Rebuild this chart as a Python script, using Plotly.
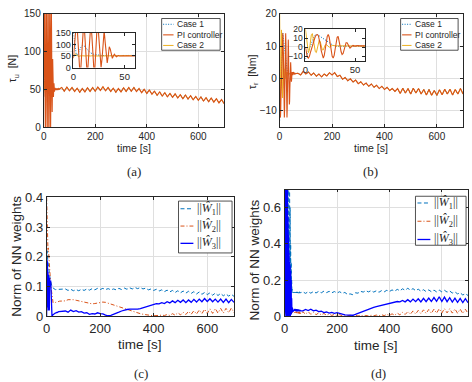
import plotly.graph_objects as go

# ---------------- time bases ----------------
t_fast = list(range(0, 61))          # 0..60 s, 1 s step
t_slow = list(range(70, 701, 10))    # 70..700 s, 10 s step

# ---------------- (a) tau_u [N] ----------------
pi_a_fast = [40, 90, 150, 200, 150, 60, 0, -20, 40, 130,
             190, 150, 60, 0, -10, 60, 150, 190, 140, 50,
             -10, 0, 80, 170, 180, 110, 30, 0, 40, 130,
             160, 110, 50, 20, 50, 90, 80, 50, 40, 50,
             58, 52, 47, 50, 52, 50, 49, 50, 51, 50,
             49, 50, 51, 50, 50, 49, 50, 51, 50, 50, 50]
case1_a_fast = [150, 110, 70, 50, 55, 65, 78, 88, 94, 97,
                96, 92, 86, 80, 75, 70, 66, 63, 60, 58,
                57, 56, 55, 54, 54, 53, 53, 52, 52, 52,
                52, 51, 51, 51, 51, 51, 50, 50, 50, 50,
                50, 50, 50, 50, 50, 50, 50, 50, 50, 50,
                50, 50, 50, 50, 50, 50, 50, 50, 50, 50, 50]
case2_a_fast = [45, 55, 60, 55, 50, 48, 49, 51, 52, 51,
                50, 49, 50, 51, 50, 50, 49, 50, 51, 50,
                50, 50, 50, 50, 50, 50, 50, 50, 50, 50,
                50, 50, 50, 50, 50, 50, 50, 50, 50, 50,
                50, 50, 50, 50, 50, 50, 50, 50, 50, 50,
                50, 50, 50, 50, 50, 50, 50, 50, 50, 50, 50]
tau_a_slow = [52.5, 47.5, 53, 48, 52.5, 47, 51.5, 46, 51, 46.5,
              52, 47, 52.5, 47.5, 53, 48.5, 53.5, 48, 52.5, 47,
              51.5, 46, 51, 46.5, 52, 47, 52.5, 47.5, 52.5, 47,
              51, 45.5, 50, 44.5, 49, 43.5, 47.5, 42, 46.5, 41,
              45.5, 40, 44.5, 39.5, 44, 38.5, 43, 37.5, 42.5, 37,
              41.5, 36, 40.5, 35.5, 40, 34.5, 39, 33.5, 38.5, 33,
              37.5, 32, 36.5, 31]

# ---------------- (b) tau_r [Nm] ----------------
pi_b_fast = [0, -6, -11, -12, -10, -6, -2, 2, 6, 9,
             12, 13.5, 14, 13, 9, 3, -4, -10, -12, -9,
             -2, 6, 12, 14, 11, 4, -4, -10, -12, -9,
             -2, 6, 11, 12, 8, 1, -5, -8, -7, -3,
             2, 5, 5, 3, 0, -1, 0, 1.5, 2, 1.5,
             1, 1.5, 2, 1.8, 1.5, 1.4, 1.6, 1.8, 1.6, 1.4, 1.5]
case1_b_fast = [-13, -10, -7, -4, -1, 2, 5, 8, 10.5, 12.5,
                13.5, 14, 14, 13.3, 12.5, 11.7, 11, 10.2, 9.4, 8.6,
                7.8, 7, 6.2, 5.4, 4.6, 3.8, 3, 2.4, 1.8, 1.3,
                1, 1, 1.2, 1.4, 1.5, 1.5, 1.5, 1.5, 1.5, 1.5,
                1.5, 1.5, 1.5, 1.5, 1.5, 1.5, 1.5, 1.5, 1.5, 1.5,
                1.5, 1.5, 1.5, 1.5, 1.5, 1.5, 1.5, 1.5, 1.5, 1.5, 1.5]
case2_b_fast = [20, 12, 3, -6, -3, 6, 14, 15, 9, 1,
                -5, -6, -1, 5, 8, 6, 1, -3, -3, 0,
                2.5, 3, 2, 0.5, 0, 0.5, 1.5, 2, 2, 1.6,
                1.4, 1.4, 1.5, 1.5, 1.5, 1.5, 1.5, 1.5, 1.5, 1.5,
                1.5, 1.5, 1.5, 1.5, 1.5, 1.5, 1.5, 1.5, 1.5, 1.5,
                1.5, 1.5, 1.5, 1.5, 1.5, 1.5, 1.5, 1.5, 1.5, 1.5, 1.5]
tau_b_slow = [1.6, 1.1, 2.2, 1.4, 2.0, 1.0, 1.7, 0.7, 1.4, 0.5,
              1.4, 0.8, 1.8, 1.1, 1.8, 0.6, 1.0, -0.2, 0.3, -0.7,
              -0.1, -1.1, -0.5, -1.6, -1.0, -2.0, -1.4, -2.4, -1.7, -2.7,
              -2.1, -3.1, -2.4, -3.4, -2.7, -3.7, -3.1, -4.0, -3.1, -4.6,
              -3.0, -4.5, -3.1, -4.8, -3.0, -4.5, -3.1, -4.8, -3.4, -5.1,
              -3.4, -5.2, -3.7, -5.2, -3.5, -5.0, -3.3, -4.8, -3.3, -5.1,
              -3.4, -4.8, -3.1, -4.8]

# ---------------- (c) NN weight norms ----------------
w1_c_fast = [0.15, 0.2, 0.22, 0.2, 0.19, 0.18, 0.17, 0.16, 0.155, 0.15,
             0.14, 0.135, 0.13, 0.125, 0.12, 0.115, 0.11, 0.108, 0.105, 0.103,
             0.1, 0.098, 0.097, 0.096, 0.095, 0.094, 0.093, 0.092, 0.092, 0.091,
             0.091, 0.09, 0.09, 0.09, 0.09, 0.09, 0.09, 0.09, 0.09, 0.09,
             0.09, 0.09, 0.09, 0.09, 0.09, 0.09, 0.09, 0.09, 0.09, 0.09,
             0.091, 0.091, 0.091, 0.091, 0.091, 0.091, 0.091, 0.091, 0.091, 0.091, 0.091]
w2_c_fast = [0.4, 0.36, 0.3, 0.26, 0.23, 0.22, 0.23, 0.22, 0.2, 0.19,
             0.18, 0.16, 0.15, 0.14, 0.12, 0.11, 0.1, 0.09, 0.08, 0.07,
             0.06, 0.055, 0.05, 0.048, 0.046, 0.045, 0.045, 0.045, 0.045, 0.046,
             0.046, 0.046, 0.047, 0.047, 0.047, 0.048, 0.048, 0.048, 0.049, 0.049,
             0.049, 0.05, 0.05, 0.05, 0.05, 0.05, 0.05, 0.051, 0.051, 0.051,
             0.051, 0.051, 0.051, 0.051, 0.051, 0.052, 0.052, 0.052, 0.052, 0.052, 0.052]
w3_c_fast = [0.0, 0.19, 0.05, 0.18, 0.03, 0.15, 0.02, 0.14, 0.03, 0.13,
             0.02, 0.13, 0.1, 0.12, 0.11, 0.12, 0.1, 0.08, 0.06, 0.03,
             0.0, 0.002, 0.004, 0.005, 0.006, 0.007, 0.008, 0.008, 0.009, 0.009,
             0.01, 0.01, 0.011, 0.011, 0.012, 0.012, 0.012, 0.013, 0.013, 0.013,
             0.014, 0.014, 0.015, 0.015, 0.015, 0.016, 0.016, 0.016, 0.017, 0.017,
             0.017, 0.017, 0.018, 0.018, 0.018, 0.018, 0.018, 0.018, 0.018, 0.018, 0.018]
w1_c_slow = [0.092, 0.087, 0.091, 0.086, 0.090, 0.086, 0.091, 0.087, 0.092, 0.088,
             0.093, 0.089, 0.094, 0.090, 0.094, 0.090, 0.093, 0.089, 0.092, 0.089,
             0.094, 0.090, 0.095, 0.091, 0.096, 0.092, 0.097, 0.093, 0.097, 0.092,
             0.095, 0.089, 0.092, 0.087, 0.091, 0.085, 0.089, 0.083, 0.088, 0.082,
             0.087, 0.080, 0.086, 0.079, 0.085, 0.078, 0.084, 0.077, 0.083, 0.075,
             0.082, 0.074, 0.080, 0.073, 0.079, 0.071, 0.078, 0.070, 0.077, 0.069,
             0.075, 0.068, 0.074, 0.067]
w2_c_slow = [0.052, 0.056, 0.057, 0.056, 0.054, 0.052, 0.049, 0.047, 0.045, 0.043,
             0.042, 0.043, 0.045, 0.047, 0.048, 0.047, 0.044, 0.041, 0.038, 0.035,
             0.032, 0.029, 0.026, 0.022, 0.019, 0.016, 0.013, 0.011, 0.009, 0.007,
             0.005, 0.004, 0.003, 0.002, 0.003, 0.002, 0.004, 0.003, 0.006, 0.003,
             0.009, 0.004, 0.012, 0.005, 0.014, 0.006, 0.017, 0.007, 0.019, 0.008,
             0.021, 0.009, 0.024, 0.010, 0.025, 0.010, 0.026, 0.011, 0.027, 0.011,
             0.027, 0.012, 0.028, 0.012]
w3_c_slow = [0.018, 0.014, 0.021, 0.016, 0.019, 0.014, 0.016, 0.011, 0.012, 0.007,
             0.009, 0.008, 0.012, 0.009, 0.008, 0.004, 0.002, 0.003, 0.006, 0.010,
             0.014, 0.018, 0.021, 0.023, 0.024, 0.024, 0.023, 0.024, 0.026, 0.029,
             0.032, 0.035, 0.038, 0.040, 0.043, 0.042, 0.046, 0.043, 0.049, 0.045,
             0.052, 0.046, 0.054, 0.047, 0.055, 0.046, 0.055, 0.047, 0.057, 0.048,
             0.058, 0.049, 0.060, 0.050, 0.059, 0.049, 0.058, 0.048, 0.058, 0.047,
             0.058, 0.046, 0.057, 0.047]

# ---------------- (d) NN weight norms ----------------
w1_d_fast = [0.3, 0.75, 0.1, 0.72, 0.2, 0.8, 0.15, 0.65, 0.3, 0.75,
             0.2, 0.6, 0.35, 0.7, 0.25, 0.5, 0.3, 0.8, 0.4, 0.75,
             0.3, 0.6, 0.2, 0.4, 0.15, 0.3, 0.14, 0.2, 0.13, 0.15,
             0.13, 0.135, 0.13, 0.132, 0.13, 0.133, 0.13, 0.132, 0.131, 0.133,
             0.13, 0.135, 0.128, 0.134, 0.129, 0.135, 0.128, 0.134, 0.13, 0.135,
             0.129, 0.134, 0.128, 0.135, 0.13, 0.134, 0.128, 0.135, 0.129, 0.134, 0.13]
w2_d_fast = [0.05, 0.15, 0.25, 0.12, 0.22, 0.1, 0.2, 0.13, 0.18, 0.08,
             0.15, 0.05, 0.12, 0.03, 0.1, 0.02, 0.08, 0.02, 0.06, 0.01,
             0.04, 0.02, 0.03, 0.015, 0.025, 0.02, 0.022, 0.018, 0.02, 0.022,
             0.02, 0.024, 0.021, 0.025, 0.022, 0.026, 0.021, 0.025, 0.02, 0.024,
             0.02, 0.025, 0.019, 0.026, 0.02, 0.025, 0.018, 0.026, 0.019, 0.025,
             0.018, 0.026, 0.017, 0.025, 0.016, 0.026, 0.015, 0.025, 0.014, 0.026, 0.014]
w3_d_fast = [0.0, 0.5, 0.0, 0.72, 0.05, 0.68, 0.0, 0.75, 0.02, 0.6,
             0.0, 0.72, 0.05, 0.55, 0.0, 0.45, 0.02, 0.35, 0.0, 0.3,
             0.05, 0.28, 0.0, 0.25, 0.02, 0.2, 0.01, 0.1, 0.02, 0.05,
             0.02, 0.03, 0.025, 0.035, 0.03, 0.036, 0.03, 0.038, 0.031, 0.037,
             0.03, 0.038, 0.03, 0.04, 0.031, 0.039, 0.03, 0.04, 0.031, 0.038,
             0.03, 0.039, 0.031, 0.038, 0.03, 0.037, 0.029, 0.036, 0.03, 0.036, 0.03]
w1_d_slow = [0.135, 0.127, 0.136, 0.128, 0.137, 0.129, 0.138, 0.130, 0.139, 0.131,
             0.138, 0.130, 0.137, 0.129, 0.136, 0.127, 0.132, 0.121, 0.124, 0.120,
             0.130, 0.128, 0.138, 0.134, 0.142, 0.135, 0.142, 0.134, 0.141, 0.133,
             0.142, 0.135, 0.144, 0.137, 0.146, 0.139, 0.149, 0.141, 0.152, 0.144,
             0.155, 0.145, 0.153, 0.142, 0.150, 0.139, 0.147, 0.137, 0.146, 0.136,
             0.145, 0.135, 0.145, 0.135, 0.144, 0.134, 0.140, 0.129, 0.135, 0.124,
             0.130, 0.118, 0.125, 0.115]
w2_d_slow = [0.025, 0.012, 0.026, 0.011, 0.022, 0.009, 0.019, 0.008, 0.016, 0.006,
             0.013, 0.005, 0.011, 0.004, 0.009, 0.004, 0.008, 0.003, 0.006, 0.003,
             0.006, 0.002, 0.005, 0.002, 0.005, 0.002, 0.006, 0.003, 0.007, 0.003,
             0.009, 0.004, 0.011, 0.005, 0.014, 0.006, 0.018, 0.008, 0.022, 0.010,
             0.026, 0.012, 0.030, 0.013, 0.033, 0.015, 0.036, 0.016, 0.038, 0.017,
             0.040, 0.018, 0.042, 0.018, 0.043, 0.019, 0.042, 0.018, 0.041, 0.017,
             0.040, 0.016, 0.039, 0.016]
w3_d_slow = [0.030, 0.038, 0.032, 0.039, 0.030, 0.034, 0.026, 0.028, 0.021, 0.024,
             0.018, 0.022, 0.017, 0.020, 0.014, 0.012, 0.008, 0.006, 0.004, 0.006,
             0.011, 0.017, 0.024, 0.030, 0.036, 0.041, 0.046, 0.050, 0.054, 0.058,
             0.062, 0.066, 0.070, 0.073, 0.076, 0.078, 0.082, 0.080, 0.088, 0.080,
             0.092, 0.080, 0.095, 0.081, 0.097, 0.080, 0.099, 0.081, 0.101, 0.082,
             0.104, 0.083, 0.108, 0.082, 0.106, 0.081, 0.103, 0.079, 0.100, 0.077,
             0.099, 0.076, 0.098, 0.075]

# tick labels
x_ticks = [0, 200, 400, 600]
ya_ticks = [0, 50, 100, 150]
yb_ticks = [-10, 0, 10, 20]
yc_ticks = [0, 0.1, 0.2, 0.3, 0.4]
yc_text = ["0", "0.1", "0.2", "0.3", "0.4"]
yd_ticks = [0, 0.2, 0.4, 0.6]
yd_text = ["0", "0.2", "0.4", "0.6"]
inset_x_ticks = [0, 50]

legend_ab = ["Case 1", "PI controller", "Case 2"]
legend_cd = ["||<i>Ŵ</i><sub>1</sub>||", "||<i>Ŵ</i><sub>2</sub>||", "||<i>Ŵ</i><sub>3</sub>||"]

# ---------------- styling ----------------
W, H = 472, 382
C_BLUE = "#0072BD"
C_ORANGE = "#D95319"
C_YELLOW = "#EDB120"
C_W3 = "#0000FF"
AX = "#262626"
GRID = "#DFDFDF"
SANS = "Liberation Sans, Arial, sans-serif"
SERIF = "Liberation Serif, Times New Roman, serif"


def fx(p):
    return p / W


def fy(p):
    return 1 - p / H


full_t = t_fast + t_slow
for arr in [pi_a_fast, case1_a_fast, case2_a_fast, pi_b_fast, case1_b_fast, case2_b_fast,
            w1_c_fast, w2_c_fast, w3_c_fast, w1_d_fast, w2_d_fast, w3_d_fast]:
    assert len(arr) == len(t_fast), len(arr)
for arr in [tau_a_slow, tau_b_slow, w1_c_slow, w2_c_slow, w3_c_slow, w1_d_slow, w2_d_slow, w3_d_slow]:
    assert len(arr) == len(t_slow), len(arr)

fig = go.Figure()

ab_style = [
    dict(color=C_BLUE, width=1, dash="1px,1.5px"),
    dict(color=C_YELLOW, width=1),
    dict(color=C_ORANGE, width=1.1),
]


def add(y, ax, line):
    fig.add_trace(go.Scatter(x=full_t, y=y, mode="lines", line=line, showlegend=False,
                             xaxis="x" + ax, yaxis="y" + ax, hoverinfo="skip"))


for ax in ["", "5"]:
    add(case1_a_fast + tau_a_slow, ax, ab_style[0])
    add(case2_a_fast + tau_a_slow, ax, ab_style[1])
    add(pi_a_fast + tau_a_slow, ax, ab_style[2])
for ax in ["2", "6"]:
    add(case1_b_fast + tau_b_slow, ax, ab_style[0])
    add(case2_b_fast + tau_b_slow, ax, ab_style[1])
    add(pi_b_fast + tau_b_slow, ax, ab_style[2])

cd_style = [
    dict(color=C_BLUE, width=1, dash="4px,2.5px"),
    dict(color=C_ORANGE, width=1, dash="4px,2px,1px,2px"),
    dict(color=C_W3, width=1.3),
]
add(w1_c_fast + w1_c_slow, "3", cd_style[0])
add(w2_c_fast + w2_c_slow, "3", cd_style[1])
add(w3_c_fast + w3_c_slow, "3", cd_style[2])
add(w1_d_fast + w1_d_slow, "4", cd_style[0])
add(w2_d_fast + w2_d_slow, "4", cd_style[1])
add(w3_d_fast + w3_d_slow, "4", cd_style[2])


def axis(dom, rng, tickvals, ticktext=None, grid=True, fsize=10, anchor=None):
    d = dict(domain=dom, range=rng, tickvals=tickvals, showline=True, mirror="ticks",
             linecolor=AX, linewidth=0.8, ticks="inside", ticklen=3, tickcolor=AX,
             tickwidth=0.8, showgrid=grid, gridcolor=GRID, gridwidth=0.8, zeroline=False,
             tickfont=dict(family=SANS, size=fsize, color=AX), anchor=anchor)
    if ticktext is not None:
        d["ticktext"] = ticktext
    return d


fig.update_layout(
    width=W, height=H, margin=dict(l=0, r=0, t=0, b=0),
    paper_bgcolor="white", plot_bgcolor="white", showlegend=False,
    xaxis=axis([fx(40), fx(222)], [0, 700], x_ticks, anchor="y"),
    yaxis=axis([fy(125), fy(7)], [0, 150], ya_ticks, anchor="x"),
    xaxis2=axis([fx(278), fx(463)], [0, 700], x_ticks, anchor="y2"),
    yaxis2=axis([fy(125), fy(7)], [-15, 20], yb_ticks, anchor="x2"),
    xaxis3=axis([fx(43), fx(232)], [0, 700], x_ticks, fsize=13, anchor="y3"),
    yaxis3=axis([fy(322), fy(198)], [0, 0.4], yc_ticks, yc_text, fsize=13, anchor="x3"),
    xaxis4=axis([fx(283), fx(468)], [0, 700], x_ticks, fsize=13, anchor="y4"),
    yaxis4=axis([fy(322), fy(190)], [0, 0.7], yd_ticks, yd_text, fsize=13, anchor="x4"),
    xaxis5=axis([fx(70), fx(132)], [0, 60], inset_x_ticks, grid=False, fsize=9.5, anchor="y5"),
    yaxis5=axis([fy(63), fy(27)], [0, 150], ya_ticks, grid=False, fsize=9, anchor="x5"),
    xaxis6=axis([fx(304), fx(364)], [0, 60], inset_x_ticks, grid=False, fsize=9.5, anchor="y6"),
    yaxis6=axis([fy(56), fy(23)], [-15, 20], yb_ticks, grid=False, fsize=8.5, anchor="x6"),
)

shapes = []
annos = []


def text(x, y, s, size, family=SANS, angle=0, xanchor="center", yanchor="middle", color=AX):
    annos.append(dict(x=fx(x), y=fy(y), xref="paper", yref="paper", text=s, showarrow=False,
                      font=dict(family=family, size=size, color=color), textangle=angle,
                      xanchor=xanchor, yanchor=yanchor))


# axis titles
text(131, 147, "time [s]", 10.5)
text(370, 147, "time [s]", 10.5)
text(137, 351, "time [s]", 13.5)
text(375, 352, "time [s]", 13.5)
text(10, 64, "τ<sub>u</sub>  [N]", 10.5, angle=-90)
text(251, 67, "τ<sub>r</sub>  [Nm]", 10.5, angle=-90)
text(13, 259, "Norm of NN weights", 13.5, angle=-90)
text(253, 263, "Norm of NN weights", 13.5, angle=-90)
# captions
text(131, 171, "(a)", 13, family=SERIF)
text(370, 171, "(b)", 13, family=SERIF)
text(138, 381, "(c)", 13, family=SERIF)
text(378, 381, "(d)", 13, family=SERIF)


def legend(box, rows, x_line, x_text, labels, styles, size, family):
    x0, y0, x1, y1 = box
    shapes.append(dict(type="rect", xref="paper", yref="paper", x0=fx(x0), x1=fx(x1), y0=fy(y1),
                       y1=fy(y0), fillcolor="white", line=dict(color=AX, width=0.8), layer="above"))
    for yy, lab, st in zip(rows, labels, styles):
        shapes.append(dict(type="line", xref="paper", yref="paper", x0=fx(x_line[0]), x1=fx(x_line[1]),
                           y0=fy(yy), y1=fy(yy), line=st, layer="above"))
        text(x_text, yy, lab, size, family=family, xanchor="left")


legend((159, 12, 218, 45), [18, 29, 40], (160.5, 171), 172.5, legend_ab,
       [ab_style[0], ab_style[2], ab_style[1]], 8.5, SANS)
legend((400, 12, 458, 45), [18, 29, 40], (401.5, 411), 412.5, legend_ab,
       [ab_style[0], ab_style[2], ab_style[1]], 8.5, SANS)
legend((176, 202, 230, 256), [210, 228, 246], (178, 191), 193, legend_cd, cd_style, 12, SERIF)
legend((415, 197, 466, 248), [204, 223, 242], (417, 430), 431.5, legend_cd, cd_style, 12, SERIF)

fig.update_layout(shapes=shapes, annotations=annos)
fig.write_html("out.html")
